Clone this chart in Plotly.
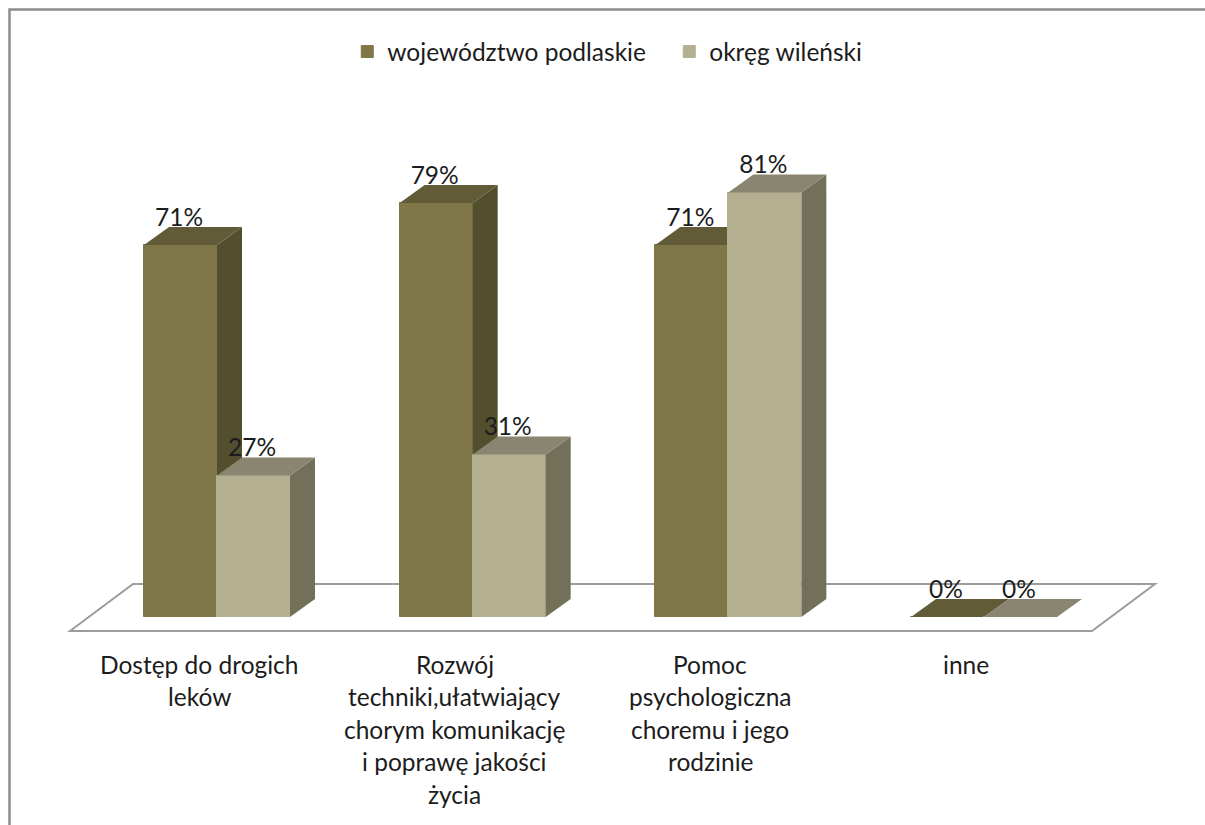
import plotly.graph_objects as go

categories = [
    ["Dostęp do drogich", "leków"],
    ["Rozwój", "techniki,ułatwiający", "chorym komunikację", "i poprawę jakości", "życia"],
    ["Pomoc", "psychologiczna", "choremu i jego", "rodzinie"],
    ["inne"],
]
series_names = ["województwo podlaskie", "okręg wileński"]
podlaskie = [71, 79, 71, 0]
wilenski = [27, 31, 81, 0]

W, H = 1205, 825
FONT = "Lato"
FS = 24.5
TXT = "#1c1c1c"
PX_X = 255.67      # pixels per category
PX_Y = 5.24        # pixels per percent
X0, Y0 = 217, 617  # pixel of category 0 centre / value 0
BW = 73 / PX_X
DX, DY = 25 / PX_X, 18 / PX_Y
xr = [-X0 / PX_X, (W - X0) / PX_X]
yr = [(Y0 - H) / PX_Y, Y0 / PX_Y]
ux = lambda px: (px - X0) / PX_X
uy = lambda py: (Y0 - py) / PX_Y

fig = go.Figure()


def add_series(vals, name, front, top, side, start, xa, ya):
    idx = list(range(len(vals)))
    fig.add_trace(go.Bar(x=idx, y=vals, name=name, width=BW, offset=start,
                         marker=dict(color=front, line=dict(width=1, color=front)),
                         xaxis=xa, yaxis=ya, hoverinfo="skip"))
    for i, v in zip(idx, vals):
        l, r = i + start, i + start + BW
        if v > 0:
            fig.add_trace(go.Scatter(x=[r, r + DX, r + DX, r, r], y=[0, DY, v + DY, v, 0],
                                     mode="lines", fill="toself", fillcolor=side,
                                     line=dict(width=0), showlegend=False,
                                     xaxis=xa, yaxis=ya, hoverinfo="skip"))
        fig.add_trace(go.Scatter(x=[l, l + DX, r + DX, r, l], y=[v, v + DY, v + DY, v, v],
                                 mode="lines", fill="toself", fillcolor=top,
                                 line=dict(width=0), showlegend=False,
                                 xaxis=xa, yaxis=ya, hoverinfo="skip"))


add_series(podlaskie, series_names[0], "#807748", "#615C37", "#534F2E", -BW, "x", "y")
add_series(wilenski, series_names[1], "#B5AF91", "#8A8570", "#737059", 0, "x2", "y2")

# value labels
for vals, start in ((podlaskie, -BW), (wilenski, 0)):
    fig.add_trace(go.Scatter(
        x=[i + start + BW / 2 - 1.5 / PX_X for i in range(len(vals))],
        y=[v + 25.5 / PX_Y for v in vals],
        text=[f"{v}%" for v in vals], mode="text", textposition="middle center",
        textfont=dict(family=FONT, size=FS, color=TXT), showlegend=False,
        xaxis="x2", yaxis="y2", hoverinfo="skip"))

# category labels, one annotation per line for the wide line pitch
annotations = []
for i, lines in enumerate(categories):
    for k, line in enumerate(lines):
        annotations.append(dict(x=i - 18 / PX_X, y=uy(664.5 + k * 32.4), xref="x2", yref="y2",
                                text=line, showarrow=False, xanchor="center", yanchor="middle",
                                font=dict(family=FONT, size=FS, color=TXT)))

floor_pts = [(70, 631), (133, 584), (1155, 584), (1092, 631)]
floor_path = "M " + " L ".join(f"{ux(a)},{uy(b)}" for a, b in floor_pts) + " Z"

shapes = [
    dict(type="path", path=floor_path, xref="x", yref="y", layer="below",
         line=dict(color="#9C9C9C", width=2), fillcolor="white"),
    dict(type="path", xref="paper", yref="paper", layer="below",
         path=f"M {9.5/W},0 L {9.5/W},{1-9.5/H} L 1,{1-9.5/H}",
         line=dict(color="#8C8C8C", width=2.5)),
]

axis = dict(visible=False, fixedrange=True, showgrid=False, zeroline=False)
fig.update_layout(
    width=W, height=H, margin=dict(l=0, r=0, t=0, b=0, pad=0),
    paper_bgcolor="white", plot_bgcolor="rgba(0,0,0,0)",
    barmode="overlay", bargap=0,
    xaxis=dict(range=xr, **axis), yaxis=dict(range=yr, **axis),
    xaxis2=dict(range=xr, overlaying="x", **axis),
    yaxis2=dict(range=yr, overlaying="y", **axis),
    shapes=shapes, annotations=annotations,
    font=dict(family=FONT, size=FS, color=TXT),
    legend=dict(orientation="h", x=0.2882, y=0.9647, xanchor="left", yanchor="top",
                font=dict(family=FONT, size=FS, color=TXT),
                entrywidth=277, entrywidthmode="pixels",
                bgcolor="rgba(0,0,0,0)", traceorder="normal", itemclick=False,
                itemdoubleclick=False),
    showlegend=True,
)
fig.write_html("out.html", config={"displayModeBar": False},
               post_script="document.body.style.margin='0';")
